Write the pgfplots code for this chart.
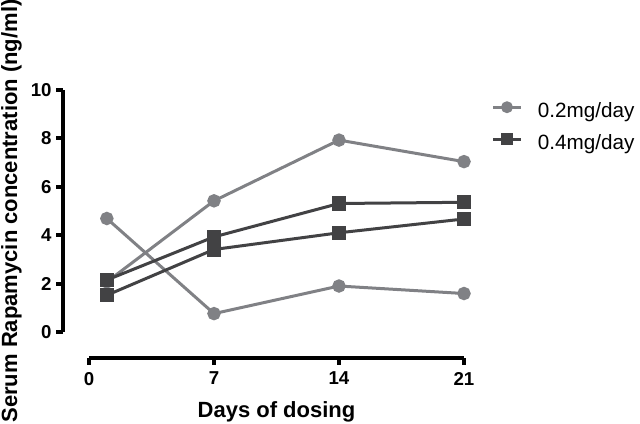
\documentclass[border=0pt]{standalone}
\usepackage{fontspec}
\setmainfont{Liberation Sans}
\usepackage{pgfplots}
\pgfplotsset{compat=1.18}
\definecolor{lowc}{RGB}{128,129,133}
\definecolor{highc}{RGB}{66,66,68}
\begin{document}
\begin{tikzpicture}
\path[use as bounding box] (0,0) rectangle (480pt,-318pt);
\begin{axis}[
  at={(66.75pt,-249pt)}, anchor=south west,
  scale only axis, width=281.25pt, height=181.5pt,
  xmin=0, xmax=21, ymin=0, ymax=10,
  axis x line=bottom, axis y line=left,
  axis line shift=19.5pt,
  axis line style={-, line width=3pt, black},
  xtick={0,7,14,21}, ytick={0,2,4,6,8,10},
  tick align=outside, major tick length=5pt,
  tick style={line width=3pt, black},
  ticklabel style={font=\fontsize{14}{16}\selectfont\bfseries},
  xticklabel style={yshift=-2pt},
  /pgf/number format/assume math mode=true,
  xlabel={Days of dosing},
  ylabel={Serum Rapamycin concentration (ng/ml)},
  label style={font=\fontsize{16.5}{19}\selectfont\bfseries},
  xlabel style={yshift=-5pt},
  clip=false,
  legend style={draw=none, fill=none, at={(1.062,0.963)}, anchor=north west,
    font=\fontsize{15.5}{18}\selectfont, row sep=8pt, column sep=10.5pt,
    nodes={inner sep=1pt, text height=11pt, text depth=3pt}},
  legend cell align=left,
  legend image code/.code={
    \draw[mark repeat=2, mark phase=2, mark size=3.3pt, #1] plot coordinates {(0pt,4pt) (10.5pt,4pt) (21pt,4pt)};},
]
% 0.2 mg/day
\addplot[lowc, line width=2.25pt, mark=*, mark size=3.9pt]
  coordinates {(1,2.07) (7,5.42) (14,7.93) (21,7.04)};
\addlegendentry{0.2mg/day}
\addplot[lowc, line width=2.25pt, mark=*, mark size=3.9pt, forget plot]
  coordinates {(1,4.69) (7,0.76) (14,1.90) (21,1.59)};
% 0.4 mg/day
\addplot[highc, line width=2.25pt, mark=square*, mark size=4.2pt]
  coordinates {(1,2.15) (7,3.93) (14,5.31) (21,5.36)};
\addlegendentry{0.4mg/day}
\addplot[highc, line width=2.25pt, mark=square*, mark size=4.2pt, forget plot]
  coordinates {(1,1.52) (7,3.41) (14,4.10) (21,4.67)};
\end{axis}
\end{tikzpicture}
\end{document}
